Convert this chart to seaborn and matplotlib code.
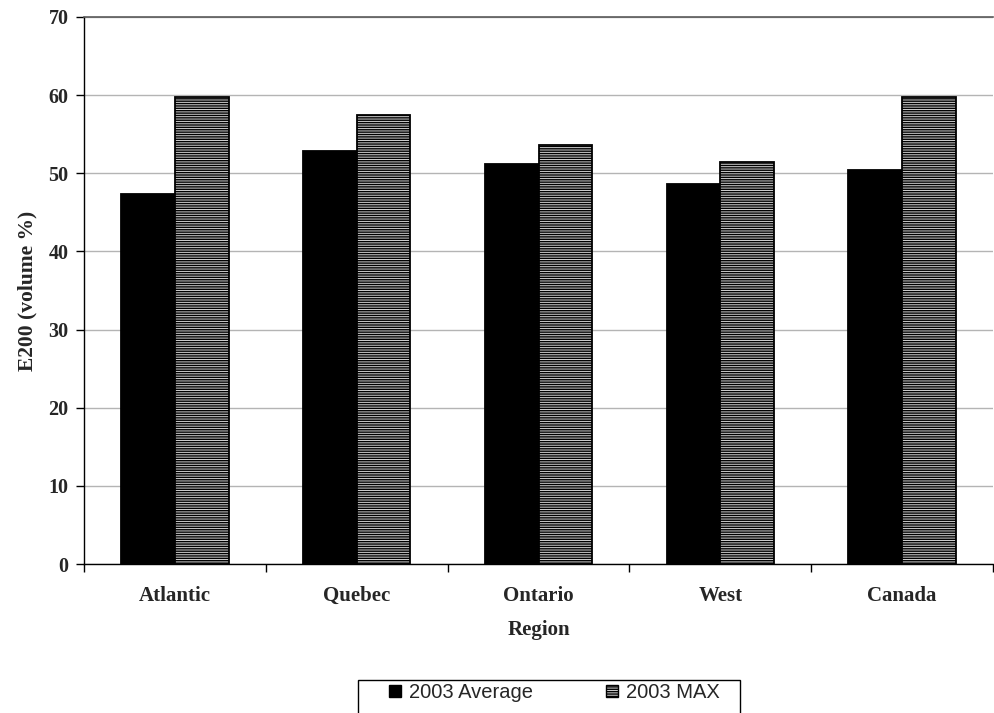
import numpy as np
import pandas as pd
import matplotlib
matplotlib.use("Agg")
import matplotlib.pyplot as plt
import seaborn as sns
from matplotlib.patches import Patch, Rectangle
from matplotlib.font_manager import FontProperties

regions = ["Atlantic", "Quebec", "Ontario", "West", "Canada"]
avg_2003 = [47.3, 52.8, 51.2, 48.6, 50.4]
max_2003 = [59.8, 57.5, 53.6, 51.4, 59.8]
series_names = ["2003 Average", "2003 MAX"]
y_ticks = [0, 10, 20, 30, 40, 50, 60, 70]

df = pd.DataFrame({
    "Region": regions * 2,
    "E200": avg_2003 + max_2003,
    "Series": [series_names[0]] * len(regions) + [series_names[1]] * len(regions),
})

sns.set_style("white")
plt.rcParams["hatch.color"] = "#4a4a4a"
plt.rcParams["hatch.linewidth"] = 1.0

W, H = 994, 713
fig = plt.figure(figsize=(W / 100, H / 100), dpi=100)
ax = fig.add_axes([84 / W, (H - 564) / H, (993 - 84) / W, (564 - 17) / H])

sns.barplot(data=df, x="Region", y="E200", hue="Series",
            palette=["#000000", "#d0d0d0"], saturation=1, width=0.59,
            edgecolor="black", linewidth=1.3, ax=ax, legend=False, zorder=3)

# horizontal stripe fill for the MAX series
for bar in ax.containers[1]:
    bar.set_hatch("-------")

ax.set_xlim(-0.5, len(regions) - 0.5)
ax.set_ylim(0, 70)
ax.set_yticks(y_ticks)
ax.yaxis.grid(True, color="#b4b4b4", linewidth=1.0, zorder=0)
ax.set_axisbelow(True)

for side in ["left", "bottom"]:
    ax.spines[side].set_color("black")
    ax.spines[side].set_linewidth(1.0)
ax.spines["right"].set_visible(False)
ax.spines["top"].set_color("#5a5a5a")
ax.spines["top"].set_linewidth(1.2)

serif_bold = dict(family="Liberation Serif", weight="bold")
ax.tick_params(axis="y", direction="out", length=6, width=1, color="black",
               left=True, pad=5)
ax.tick_params(axis="x", which="major", length=0, pad=16)
ax.set_xticks(np.arange(-0.5, len(regions), 1.0), minor=True)
ax.tick_params(axis="x", which="minor", direction="out", length=6, width=1,
               color="black", bottom=True)
for lbl in ax.get_yticklabels():
    lbl.set_fontproperties(FontProperties(size=14.5, **serif_bold))
for lbl in ax.get_xticklabels():
    lbl.set_fontproperties(FontProperties(size=15, **serif_bold))

ax.set_xlabel("Region", fontsize=15, labelpad=10, **serif_bold)
ax.set_ylabel("E200 (volume %)", fontsize=15.5, labelpad=8, **serif_bold)

# legend box along the bottom edge, running past the figure border
fig.patches.append(Rectangle((358 / W, -0.05), (740 - 358) / W, 0.05 + (H - 680) / H,
                             transform=fig.transFigure, facecolor="white",
                             edgecolor="black", linewidth=1.0, zorder=1))

handles = [
    Patch(facecolor="#000000", edgecolor="black"),
    Patch(facecolor="#d0d0d0", edgecolor="black", hatch="-------"),
]
leg = fig.legend(handles, series_names, loc="upper left",
                 bbox_to_anchor=(389 / W, (H - 683) / H), ncol=2,
                 frameon=False, handlelength=0.6, handleheight=0.6,
                 handletextpad=0.4, columnspacing=3.6, borderpad=0.0,
                 borderaxespad=0.0,
                 prop={"family": "Liberation Sans", "size": 14.5})
leg.set_zorder(2)

fig.savefig("out.png", dpi=100)
